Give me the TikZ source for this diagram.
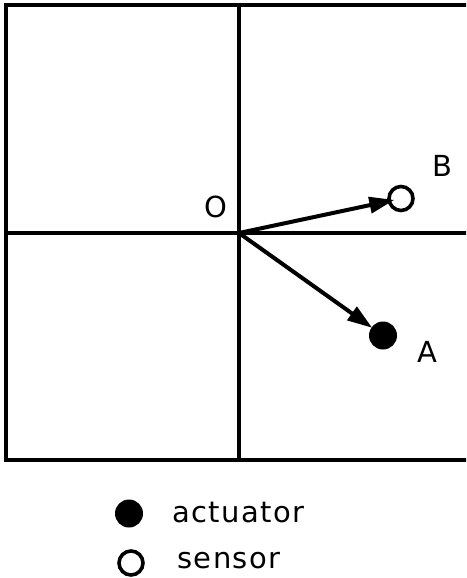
\documentclass[tikz,border=0pt]{standalone}
\usepackage{fontspec}
\setmainfont{DejaVu Sans}[LetterSpace=5]
\usetikzlibrary{arrows.meta}
\begin{document}
\begin{tikzpicture}[x=1pt,y=-1pt,
  frame/.style={line width=3.3pt},
  vec/.style={line width=4pt,-{Triangle[length=25pt,width=16pt]}},
  actdot/.style={circle,fill=black,minimum size=28pt,inner sep=0pt},
  sensdot/.style={circle,draw=black,line width=3.6pt,minimum size=24pt,inner sep=0pt},
  lbl/.style={font=\fontsize{29}{34}\selectfont,inner sep=0pt}]
\useasboundingbox (0,0) rectangle (466,578);
\begin{scope}
\clip (0,0) rectangle (466,578);
\draw[frame] (6,5) rectangle (480,460);
\draw[frame] (239,5) -- (239,460);
\draw[frame] (6,233) -- (480,233);
\end{scope}
\coordinate (o) at (239,233);
\node[actdot] (a) at (383,335.5) {};
\node[sensdot] (b) at (401,198.5) {};
\draw[vec,shorten >=-1pt] (o) -- (a);
\draw[vec,shorten >=-7pt] (o) -- (b);
\node[lbl] (ol) at (216,207) {O};
\node[lbl] (bl) at (442,166) {B};
\node[lbl] (al) at (427,352) {A};
\node[actdot] (lega) at (129,513.5) {};
\node[sensdot] (legs) at (131,563) {};
\node[lbl,anchor=base west] (ta) at (172,522) {actuator};
\node[lbl,anchor=base west] (ts) at (177,568) {sensor};
\end{tikzpicture}
\end{document}
